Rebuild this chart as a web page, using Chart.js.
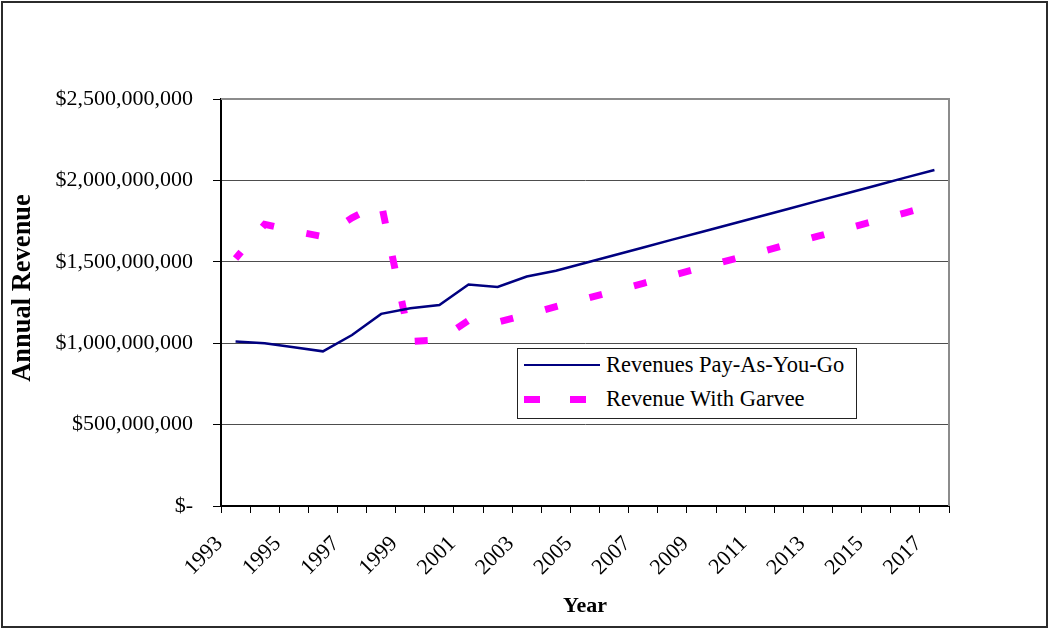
<!DOCTYPE html>
<html>
<head>
<meta charset="utf-8">
<title>Annual Revenue</title>
<script src="https://cdn.jsdelivr.net/npm/chart.js@4.4.1/dist/chart.umd.min.js"></script>
<style>
  html, body { margin: 0; padding: 0; background: #fff; }
  #wrap { position: relative; width: 1048px; height: 629px; }
  #revenue-chart { position: absolute; left: 0; top: 0; }
  #frame {
    position: absolute; left: 1px; top: 1px; width: 1047px; height: 627px;
    box-sizing: border-box; border: 2px solid #2b2b2b; pointer-events: none;
  }
  #revenue-legend {
    position: absolute; left: 517px; top: 348px; width: 340px; height: 71px;
    box-sizing: border-box; border: 1px solid #222; background: #fff;
    font-family: "Liberation Serif", "Times New Roman", serif; font-size: 22.5px; color: #000;
  }
  #revenue-legend ul { list-style: none; margin: 0; padding: 0; }
  #revenue-legend li {
    position: absolute; left: 6px; height: 26px;
    display: flex; align-items: center; white-space: nowrap;
  }
  #revenue-legend .swatch { display: inline-block; width: 76px; margin-right: 6px; }
</style>
</head>
<body>
<div id="wrap">
  <canvas id="revenue-chart" width="1048" height="629"></canvas>
  <div id="revenue-legend"></div>
  <div id="frame"></div>
</div>
<script>
// 年度
const years = [
  '1993', '1994', '1995', '1996', '1997', '1998', '1999', '2000', '2001',
  '2002', '2003', '2004', '2005', '2006', '2007', '2008', '2009', '2010',
  '2011', '2012', '2013', '2014', '2015', '2016', '2017'
];

// Revenues Pay-As-You-Go ($)
const payAsYouGo = [
  1010000000, 1000000000, 975000000, 950000000, 1050000000, 1180000000,
  1215000000, 1235000000, 1360000000, 1345000000, 1410000000, 1445000000,
  1493000000, 1540000000, 1588000000, 1636000000, 1683000000, 1731000000,
  1778000000, 1826000000, 1874000000, 1921000000, 1969000000, 2017000000,
  2064000000
];

// Revenue With Garvee ($)
const withGarvee = [
  1520000000, 1730000000, 1690000000, 1655000000, 1770000000, 1860000000,
  1010000000, 1020000000, 1140000000, 1130000000, 1175000000, 1225000000,
  1272000000, 1320000000, 1368000000, 1416000000, 1464000000, 1512000000,
  1560000000, 1608000000, 1657000000, 1705000000, 1753000000, 1801000000,
  1849000000
];

const seriesLabels = ['Revenues Pay-As-You-Go', 'Revenue With Garvee'];
const yTitle = 'Annual Revenue';
const xTitle = 'Year';
const yTickStep = 500000000;
const yMax = 2500000000;

/* ===== HTML凡例 ===== */
const htmlLegendPlugin = {
  id: 'htmlLegend',
  afterUpdate(chart, args, options) {
    const container = document.getElementById(options.containerID);
    if (!container) return;

    let ul = container.querySelector('ul');
    if (!ul) {
      ul = document.createElement('ul');
      container.appendChild(ul);
    }
    while (ul.firstChild) ul.firstChild.remove();

    chart.data.datasets.forEach((ds, i) => {
      const li = document.createElement('li');
      li.style.top = (3 + i * 34) + 'px';

      const sw = document.createElement('span');
      sw.className = 'swatch';
      sw.style.height = ds.borderWidth + 'px';
      if (ds.borderDash && ds.borderDash.length) {
        // 凡例の破線は少し長め
        const [on, off] = options.dash || ds.borderDash;
        sw.style.background =
          `linear-gradient(to right, ${ds.borderColor} 0 ${on}px, transparent ${on}px ${on + off}px)`;
        sw.style.backgroundSize = `${on + off}px 100%`;
      } else {
        sw.style.background = ds.borderColor;
      }
      li.appendChild(sw);
      li.appendChild(document.createTextNode(ds.label));
      ul.appendChild(li);
    });
  }
};

// プロットエリアの上・右の枠線
const plotFramePlugin = {
  id: 'plotFrame',
  beforeDatasetsDraw(chart) {
    const { ctx, chartArea: { left, top, right, bottom } } = chart;
    ctx.save();
    ctx.strokeStyle = '#8c8c8c';
    ctx.lineWidth = 2;
    ctx.beginPath();
    ctx.moveTo(left, top);
    ctx.lineTo(right, top);
    ctx.lineTo(right, bottom);
    ctx.stroke();
    ctx.restore();
  }
};

// Y軸タイトル（グラフ全体の高さの中央に置く）
const yTitlePlugin = {
  id: 'yTitle',
  afterDraw(chart, args, options) {
    const { ctx } = chart;
    ctx.save();
    ctx.font = `bold ${options.size}px "Liberation Serif", "Times New Roman", serif`;
    ctx.fillStyle = '#000';
    ctx.textAlign = 'center';
    ctx.textBaseline = 'middle';
    ctx.translate(options.x, options.y);
    ctx.rotate(-Math.PI / 2);
    ctx.fillText(options.text, 0, 0);
    ctx.restore();
  }
};

Chart.defaults.font.family = '"Liberation Serif", "Times New Roman", serif';
Chart.defaults.font.size = 22;
Chart.defaults.color = '#000';

const ctx = document.getElementById('revenue-chart').getContext('2d');
const chart = new Chart(ctx, {
  type: 'line',
  data: {
    labels: years,
    datasets: [
      {
        label: seriesLabels[0],
        data: payAsYouGo,
        borderColor: '#000080',
        borderWidth: 2.5,
        pointRadius: 0,
        tension: 0,
        fill: false
      },
      {
        label: seriesLabels[1],
        data: withGarvee,
        borderColor: '#ff00ff',
        borderWidth: 7,
        borderDash: [13, 33],
        borderDashOffset: 4.5,
        borderCapStyle: 'butt',
        pointRadius: 0,
        tension: 0,
        fill: false
      }
    ]
  },
  plugins: [htmlLegendPlugin, plotFramePlugin, yTitlePlugin],
  options: {
    responsive: false,
    animation: false,
    devicePixelRatio: 1,
    layout: { padding: { left: 0, top: 99, right: 99, bottom: 0 } },
    plugins: {
      legend: { display: false },
      tooltip: { enabled: false },
      htmlLegend: { containerID: 'revenue-legend', dash: [16, 30] },
      yTitle: { text: yTitle, x: 23, y: 288, size: 26.5 }
    },
    scales: {
      x: {
        offset: true,
        grid: {
          offset: true,
          drawOnChartArea: false,
          drawTicks: true,
          tickLength: 7,
          color: '#000'
        },
        border: { color: '#000', width: 2 },
        ticks: {
          autoSkip: false,
          maxRotation: 45,
          minRotation: 45,
          padding: 18,
          labelOffset: -16,
          callback: (v, i) => (i % 2 === 0 ? years[i] : '')
        },
        title: {
          display: true,
          text: xTitle,
          font: { weight: 'bold', size: 22 },
          padding: { top: 0, bottom: 9 }
        },
        afterFit: (scale) => { scale.height = 123; }
      },
      y: {
        min: 0,
        max: yMax,
        grid: {
          color: '#4d4d4d',
          lineWidth: 1,
          tickLength: 8,
          tickColor: '#000'
        },
        border: { color: '#000', width: 2 },
        ticks: {
          stepSize: yTickStep,
          padding: 20,
          callback: (v) => (v === 0 ? '$-' : '$' + Number(v).toLocaleString('en-US'))
        },
        afterFit: (scale) => { scale.width = 221; }
      }
    }
  }
});
</script>
</body>
</html>
